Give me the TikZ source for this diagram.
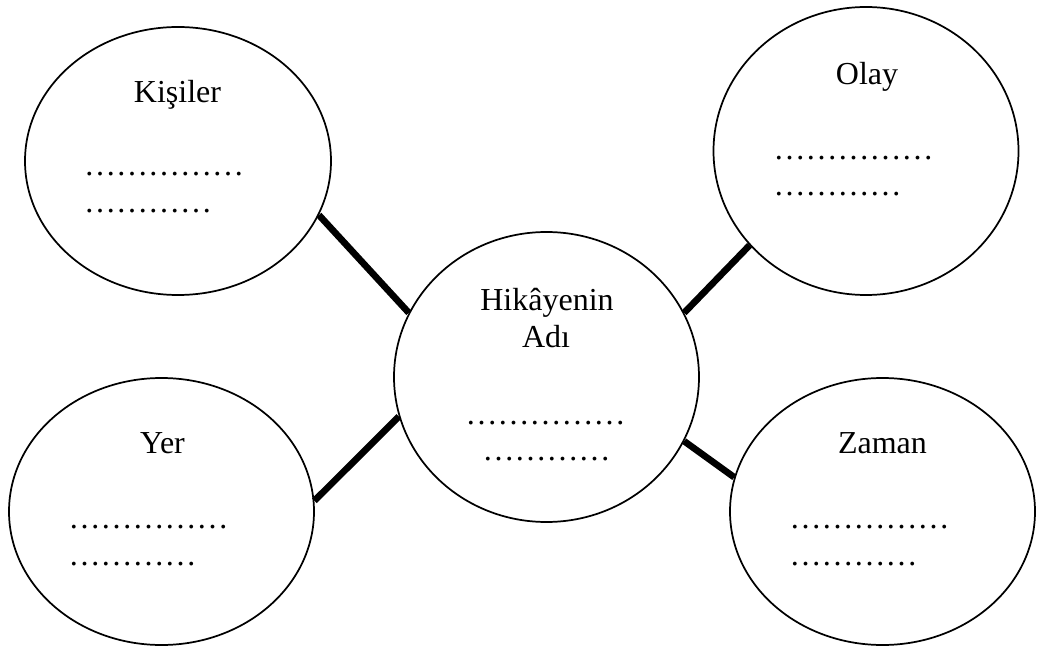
\documentclass[tikz,border=0pt]{standalone}
\usepackage{fontspec}
\setmainfont{Liberation Serif}
\usetikzlibrary{shapes.geometric}
\begin{document}
\begin{tikzpicture}[x=0.75pt,y=-0.75pt,
  bubble/.style={draw,ellipse,line width=1.3pt,inner sep=0pt},
  link/.style={line width=5pt},
  label/.style={inner sep=0pt,anchor=base,font=\fontsize{24}{28}\selectfont}]
  \useasboundingbox (0,0) rectangle (1038,648);

  % outline bubbles
  \node[bubble,minimum width=229.5pt,minimum height=201pt] (kis) at (178,161) {};
  \node[bubble,minimum width=228.75pt,minimum height=216pt] (olay) at (866,151) {};
  \node[bubble,minimum width=228.75pt,minimum height=217.5pt] (hik) at (546.5,377) {};
  \node[bubble,minimum width=228.75pt,minimum height=200.25pt] (yer) at (161.5,511.5) {};
  \node[bubble,minimum width=228.75pt,minimum height=200.25pt] (zam) at (882.5,511.5) {};

  % heavy connectors between bubble borders
  \draw[link] (kis.-21.9) -- (hik.155.2);
  \draw[link] (olay.219) -- (hik.25.1);
  \draw[link] (yer.4.3) -- (hik.195.7);
  \draw[link] (zam.167.7) -- (hik.-25.5);

  % Kişiler
  \node[label] (kisT) at (177.5,103) {Kişiler};
  \node[label] (kisA) at (164,176) {……………};
  \node[label] (kisB) at (148,213) {…………};
  % Olay
  \node[label] (olayT) at (867,85) {Olay};
  \node[label] (olayA) at (853.5,160) {……………};
  \node[label] (olayB) at (837.5,196) {…………};
  % Hikâyenin Adı
  \node[label] (hikT) at (547,311) {Hikâyenin};
  \node[label] (hikU) at (546,348) {Adı};
  \node[label] (hikA) at (545.5,424) {……………};
  \node[label] (hikB) at (546.5,460) {…………};
  % Yer
  \node[label] (yerT) at (162.5,453) {Yer};
  \node[label] (yerA) at (148.5,528) {……………};
  \node[label] (yerB) at (132.5,565) {…………};
  % Zaman
  \node[label] (zamT) at (882.5,453) {Zaman};
  \node[label] (zamA) at (869.5,528) {……………};
  \node[label] (zamB) at (853.5,565) {…………};
\end{tikzpicture}
\end{document}
